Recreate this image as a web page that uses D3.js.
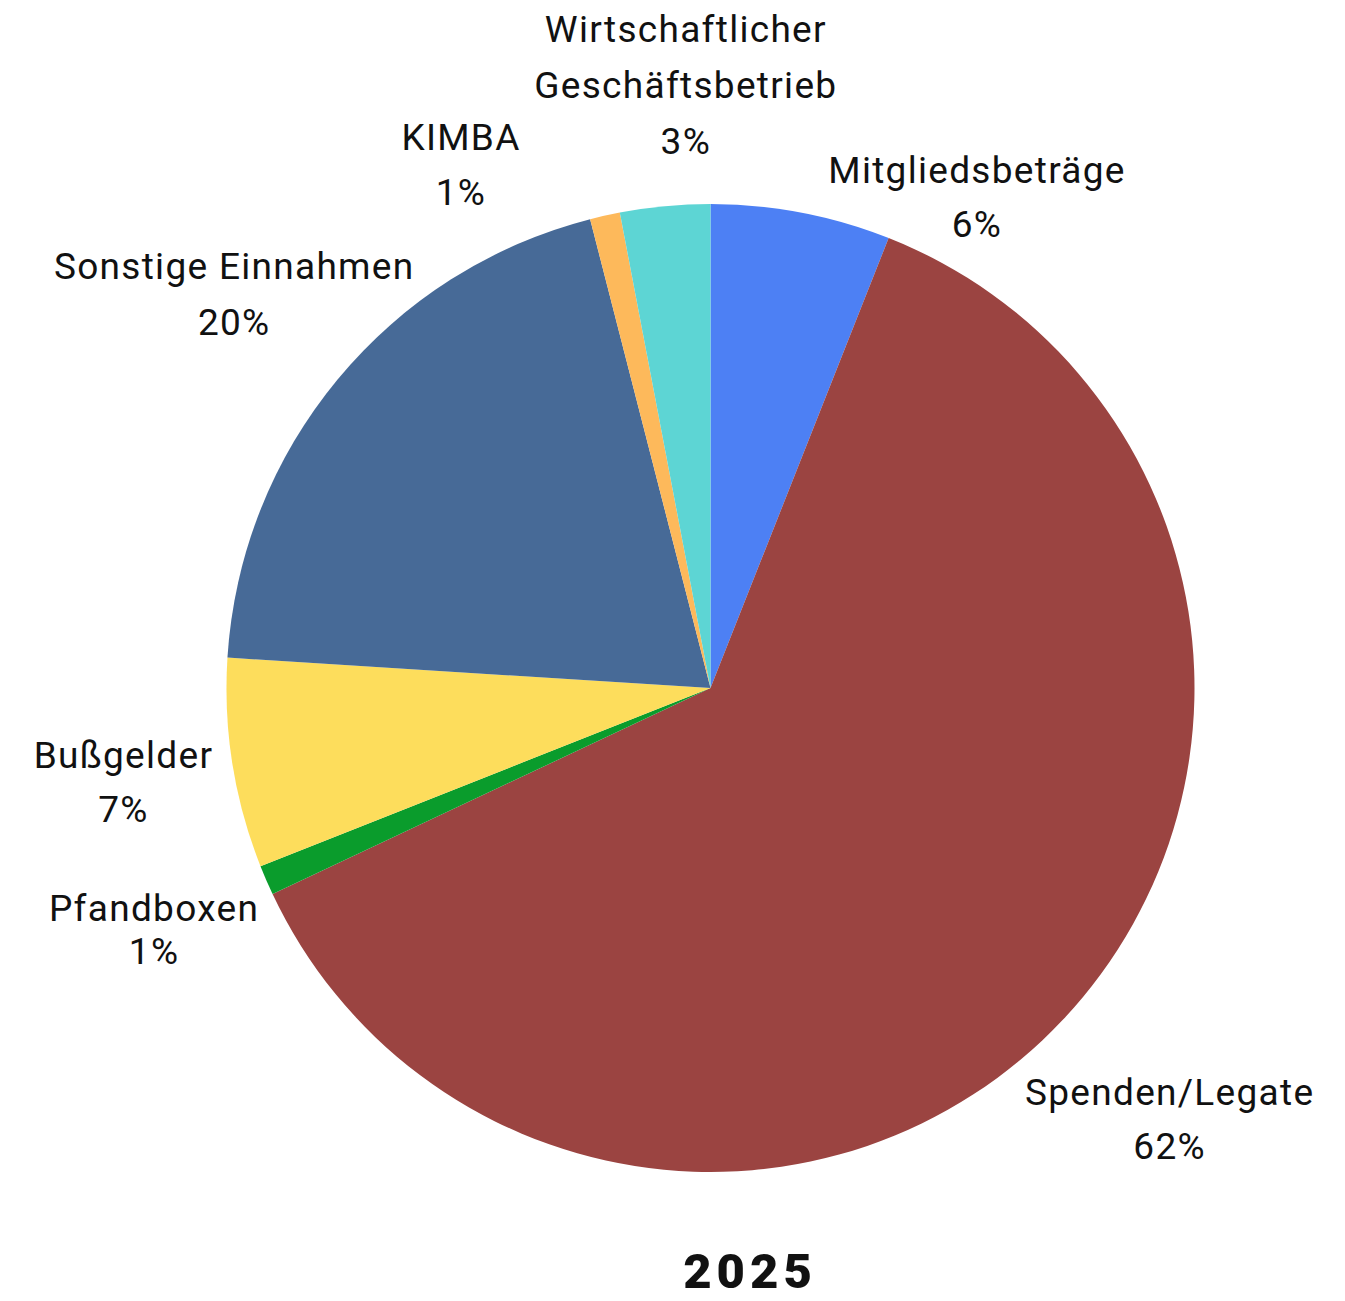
<!DOCTYPE html>
<html>
<head>
<meta charset="utf-8">
<script src="https://cdn.jsdelivr.net/npm/d3@7"></script>
<style>
  html, body { margin: 0; padding: 0; background: #ffffff; }
  svg { display: block; }
</style>
</head>
<body>
<svg id="chart" width="1345" height="1301"></svg>
<script>
// ---- data ----
const categories = ["Mitgliedsbeiträge", "Spenden/Legate", "Pfandboxen", "Bußgelder", "Sonstige Einnahmen", "KIMBA", "Wirtschaftlicher Geschäftsbetrieb"];
const labelLines = [["Mitgliedsbeträge"], ["Spenden/Legate"], ["Pfandboxen"], ["Bußgelder"], ["Sonstige Einnahmen"], ["KIMBA"], ["Wirtschaftlicher", "Geschäftsbetrieb"]];
const values = [6.0, 62.0, 1.0, 7.0, 20.0, 1.0, 3.0];
const percentLabels = ["6%", "62%", "1%", "7%", "20%", "1%", "3%"];
const title = "2025";

// ---- styles / layout ----
const colors = ["#4d80f4", "#9b4441", "#0a9c2c", "#fddd5c", "#476a97", "#fdb95b", "#5dd5d4"];
// label placement relative to slice mid-angle: angle shift (deg), distance from centre, line gap
const labelLayout = [
  { dA: 17.6, dist: 559, gap: 54 },
  { dA: 0,    dist: 629, gap: 54 },
  { dA: 0,    dist: 607, gap: 43 },
  { dA: 0,    dist: 595, gap: 54 },
  { dA: 0,    dist: 619, gap: 56 },
  { dA: -12.9, dist: 581, gap: 55 },
  { dA: 3.0,  dist: 604, gap: 56 }
];
const cx = 710.5, cy = 688, radius = 484;
const fontFamily = "Roboto, 'Noto Sans', sans-serif";
const fontSize = 37;
const letterSpacing = 1.3;
const capH = 27;

const svg = d3.select("#chart");
const g = svg.append("g").attr("transform", `translate(${cx},${cy})`);

const data = categories.map((c, i) => ({ name: c, value: values[i], i }));
const pie = d3.pie().sort(null).value(d => d.value);
const arc = d3.arc().innerRadius(0).outerRadius(radius);
const arcs = pie(data);

g.selectAll("path.slice")
  .data(arcs)
  .enter().append("path")
  .attr("class", "slice")
  .attr("d", arc)
  .attr("fill", d => colors[d.data.i]);

// labels
const lbl = svg.append("g")
  .attr("font-family", fontFamily)
  .attr("font-size", fontSize)
  .attr("letter-spacing", letterSpacing)
  .attr("fill", "#111")
  .attr("text-anchor", "middle");

arcs.forEach(a => {
  const i = a.data.i;
  const L = labelLayout[i];
  const mid = (a.startAngle + a.endAngle) / 2 + L.dA * Math.PI / 180;
  const x = cx + L.dist * Math.sin(mid) + letterSpacing / 2;
  const y = cy - L.dist * Math.cos(mid);
  const lines = labelLines[i].concat([percentLabels[i]]);
  const n = lines.length;
  const blockH = capH + (n - 1) * L.gap;
  const firstBase = y - blockH / 2 + capH;
  const t = lbl.append("text");
  lines.forEach((ln, k) => {
    t.append("tspan").attr("x", x).attr("y", firstBase + k * L.gap).text(ln);
  });
});

svg.append("text")
  .attr("x", 750)
  .attr("y", 1288)
  .attr("text-anchor", "middle")
  .attr("font-family", fontFamily)
  .attr("font-weight", 900)
  .attr("font-size", 49)
  .attr("letter-spacing", 5)
  .attr("fill", "#111")
  .text(title);
</script>
</body>
</html>
